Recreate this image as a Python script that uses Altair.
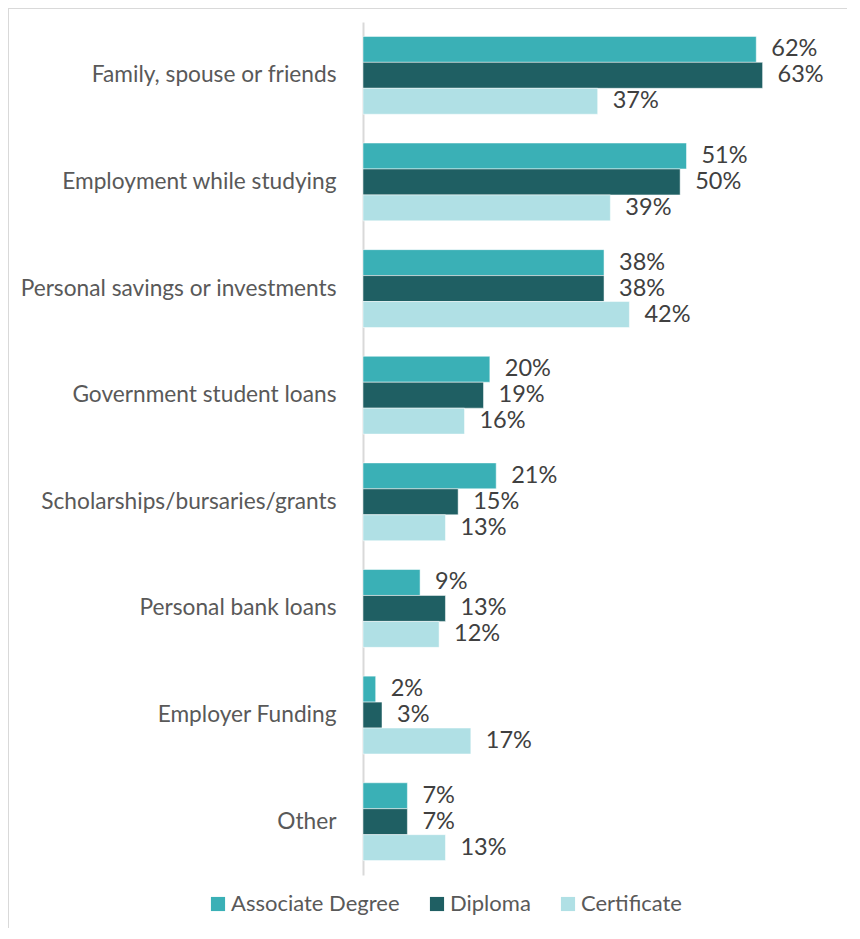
import altair as alt
import pandas as pd

categories = [
    "Family, spouse or friends",
    "Employment while studying",
    "Personal savings or investments",
    "Government student loans",
    "Scholarships/bursaries/grants",
    "Personal bank loans",
    "Employer Funding",
    "Other",
]
series = ["Associate Degree", "Diploma", "Certificate"]
associate = [62, 51, 38, 20, 21, 9, 2, 7]
diploma = [63, 50, 38, 19, 15, 13, 3, 7]
certificate = [37, 39, 42, 16, 13, 12, 17, 13]
colors = ["#3AB0B6", "#1F5F63", "#B0E0E5"]

rows = []
for s_i, (s, vals) in enumerate(zip(series, [associate, diploma, certificate])):
    for c, v in zip(categories, vals):
        rows.append({"category": c, "series": s, "order": s_i, "value": v, "label": f"{v}%"})
df = pd.DataFrame(rows)

FONT = "Lato"
W, H = 444, 853

y_enc = alt.Y("category:N", sort=categories,
              scale=alt.Scale(paddingInner=0.27, paddingOuter=0.135),
              axis=alt.Axis(title=None, ticks=False, domainColor="#d9d9d9", domainWidth=2,
                            labelFont=FONT, labelFontSize=22.7, labelColor="#595959",
                            labelPadding=27, labelLimit=400))
yoff = alt.YOffset("order:O", sort="ascending")
x_enc = alt.X("value:Q", scale=alt.Scale(domain=[0, 70], nice=False), axis=None)

bars = alt.Chart(df).mark_bar(stroke="white", strokeWidth=0.5).encode(
    x=x_enc, y=y_enc, yOffset=yoff,
    color=alt.Color("series:N", sort=series,
                    scale=alt.Scale(domain=series, range=colors),
                    legend=alt.Legend(title=None, orient="none", direction="horizontal",
                                      legendX=-156, legendY=871,
                                      symbolType="square", symbolSize=200, symbolStrokeWidth=0,
                                      labelFont=FONT, labelFontSize=22, labelColor="#595959",
                                      labelLimit=400, columnPadding=26, labelOffset=2)),
)

labels = alt.Chart(df).mark_text(align="left", baseline="middle", dx=15,
                                 font=FONT, fontSize=23.5, color="#404040").encode(
    x=x_enc, y=alt.Y("category:N", sort=categories), yOffset=yoff, text="label:N",
)

border = alt.Chart(pd.DataFrame({"a": [0]})).mark_rect(
    fill=None, stroke="#d9d9d9", strokeWidth=2
).encode(x=alt.value(-355), x2=alt.value(600), y=alt.value(-14), y2=alt.value(1000))

chart = alt.layer(border, bars, labels).properties(
    width=W, height=H,
    autosize=alt.AutoSizeParams(type="none"),
    padding={"left": 355, "top": 14, "right": 40, "bottom": 53},
).configure_view(stroke=None)

chart.save("out.html", embed_options={"renderer": "svg", "actions": False})
